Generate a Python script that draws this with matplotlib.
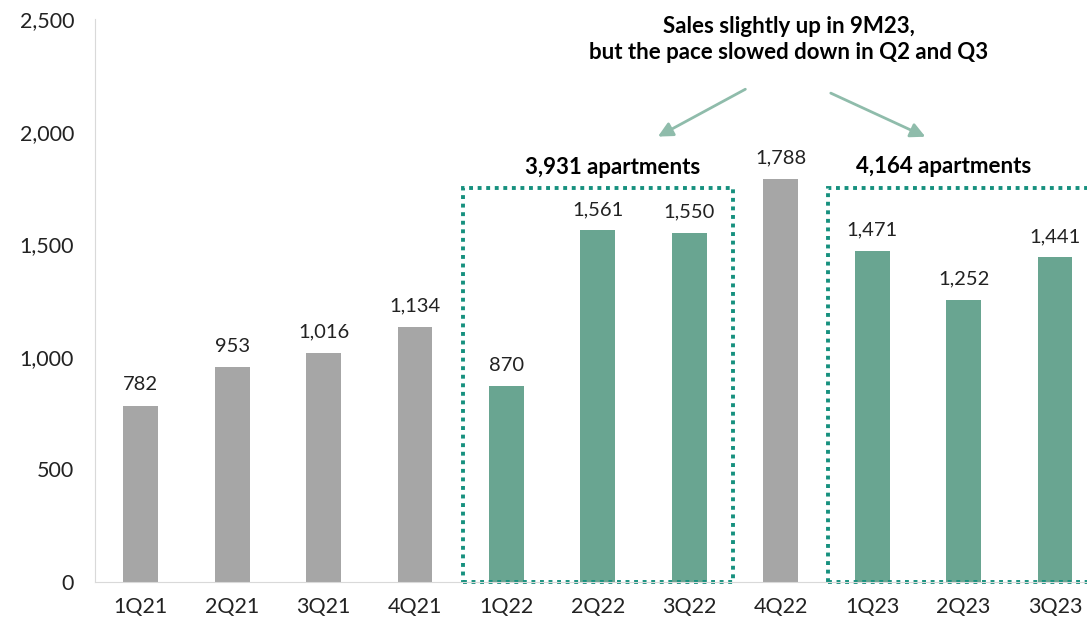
import matplotlib.pyplot as plt
from matplotlib.patches import Rectangle

plt.rcParams['font.family'] = ['Lato', 'DejaVu Sans']

quarters = ["1Q21", "2Q21", "3Q21", "4Q21", "1Q22", "2Q22", "3Q22", "4Q22", "1Q23", "2Q23", "3Q23"]
sales = [782, 953, 1016, 1134, 870, 1561, 1550, 1788, 1471, 1252, 1441]
highlight = [False, False, False, False, True, True, True, False, True, True, True]
group_labels = ["3,931 apartments", "4,164 apartments"]
title = "Sales slightly up in 9M23,\nbut the pace slowed down in Q2 and Q3"

gray = "#a6a6a6"
green = "#69a591"
box_color = "#16907e"
arrow_color = "#8fbcab"

fig = plt.figure(figsize=(10.87, 6.23), dpi=100)
ax = fig.add_axes([0.0874, 0.0658, 0.9126, 0.9037])

x = range(len(quarters))
colors = [green if h else gray for h in highlight]
bars = ax.bar(x, sales, width=0.38, color=colors)

for xi, v in zip(x, sales):
    ax.annotate(f"{v:,}", (xi, v), xytext=(0, 9), textcoords="offset points",
                ha="center", va="bottom", fontsize=14.5, color="#222222")

ax.set_ylim(0, 2500)
ax.set_xlim(-0.5, 10.35)
ax.set_yticks([0, 500, 1000, 1500, 2000, 2500])
ax.set_yticklabels([f"{t:,}" for t in [0, 500, 1000, 1500, 2000, 2500]])
ax.set_xticks(list(x))
ax.set_xticklabels(quarters)
ax.tick_params(axis="both", length=0, labelsize=15.5, colors="#222222")
ax.tick_params(axis="y", pad=15)
ax.tick_params(axis="x", pad=11)

for s in ["top", "right"]:
    ax.spines[s].set_visible(False)
ax.spines["left"].set_color("#d9d9d9")
ax.spines["bottom"].set_color("#d9d9d9")

# dotted boxes around the highlighted groups
ax.add_patch(Rectangle((3.53, 0), 2.95, 1750, fill=False, edgecolor=box_color,
                       linestyle=(0, (1, 1.2)), linewidth=2.8, clip_on=False))
ax.add_patch(Rectangle((7.52, 0), 3.2, 1750, fill=False, edgecolor=box_color,
                       linestyle=(0, (1, 1.2)), linewidth=2.8, clip_on=False))

ax.text(5.16, 1840, group_labels[0], ha="center", va="center", fontsize=16, fontweight="bold")
ax.text(8.78, 1845, group_labels[1], ha="center", va="center", fontsize=16, fontweight="bold")

ax.text(7.09, 2410, title, ha="center", va="center", fontsize=16, fontweight="bold",
        linespacing=1.3)

ax.annotate("", xy=(5.63, 1972), xytext=(6.64, 2194),
            arrowprops=dict(arrowstyle="-|>", color=arrow_color, lw=2, mutation_scale=22))
ax.annotate("", xy=(8.61, 1972), xytext=(7.52, 2176),
            arrowprops=dict(arrowstyle="-|>", color=arrow_color, lw=2, mutation_scale=22))

fig.savefig("out.png", dpi=100)
